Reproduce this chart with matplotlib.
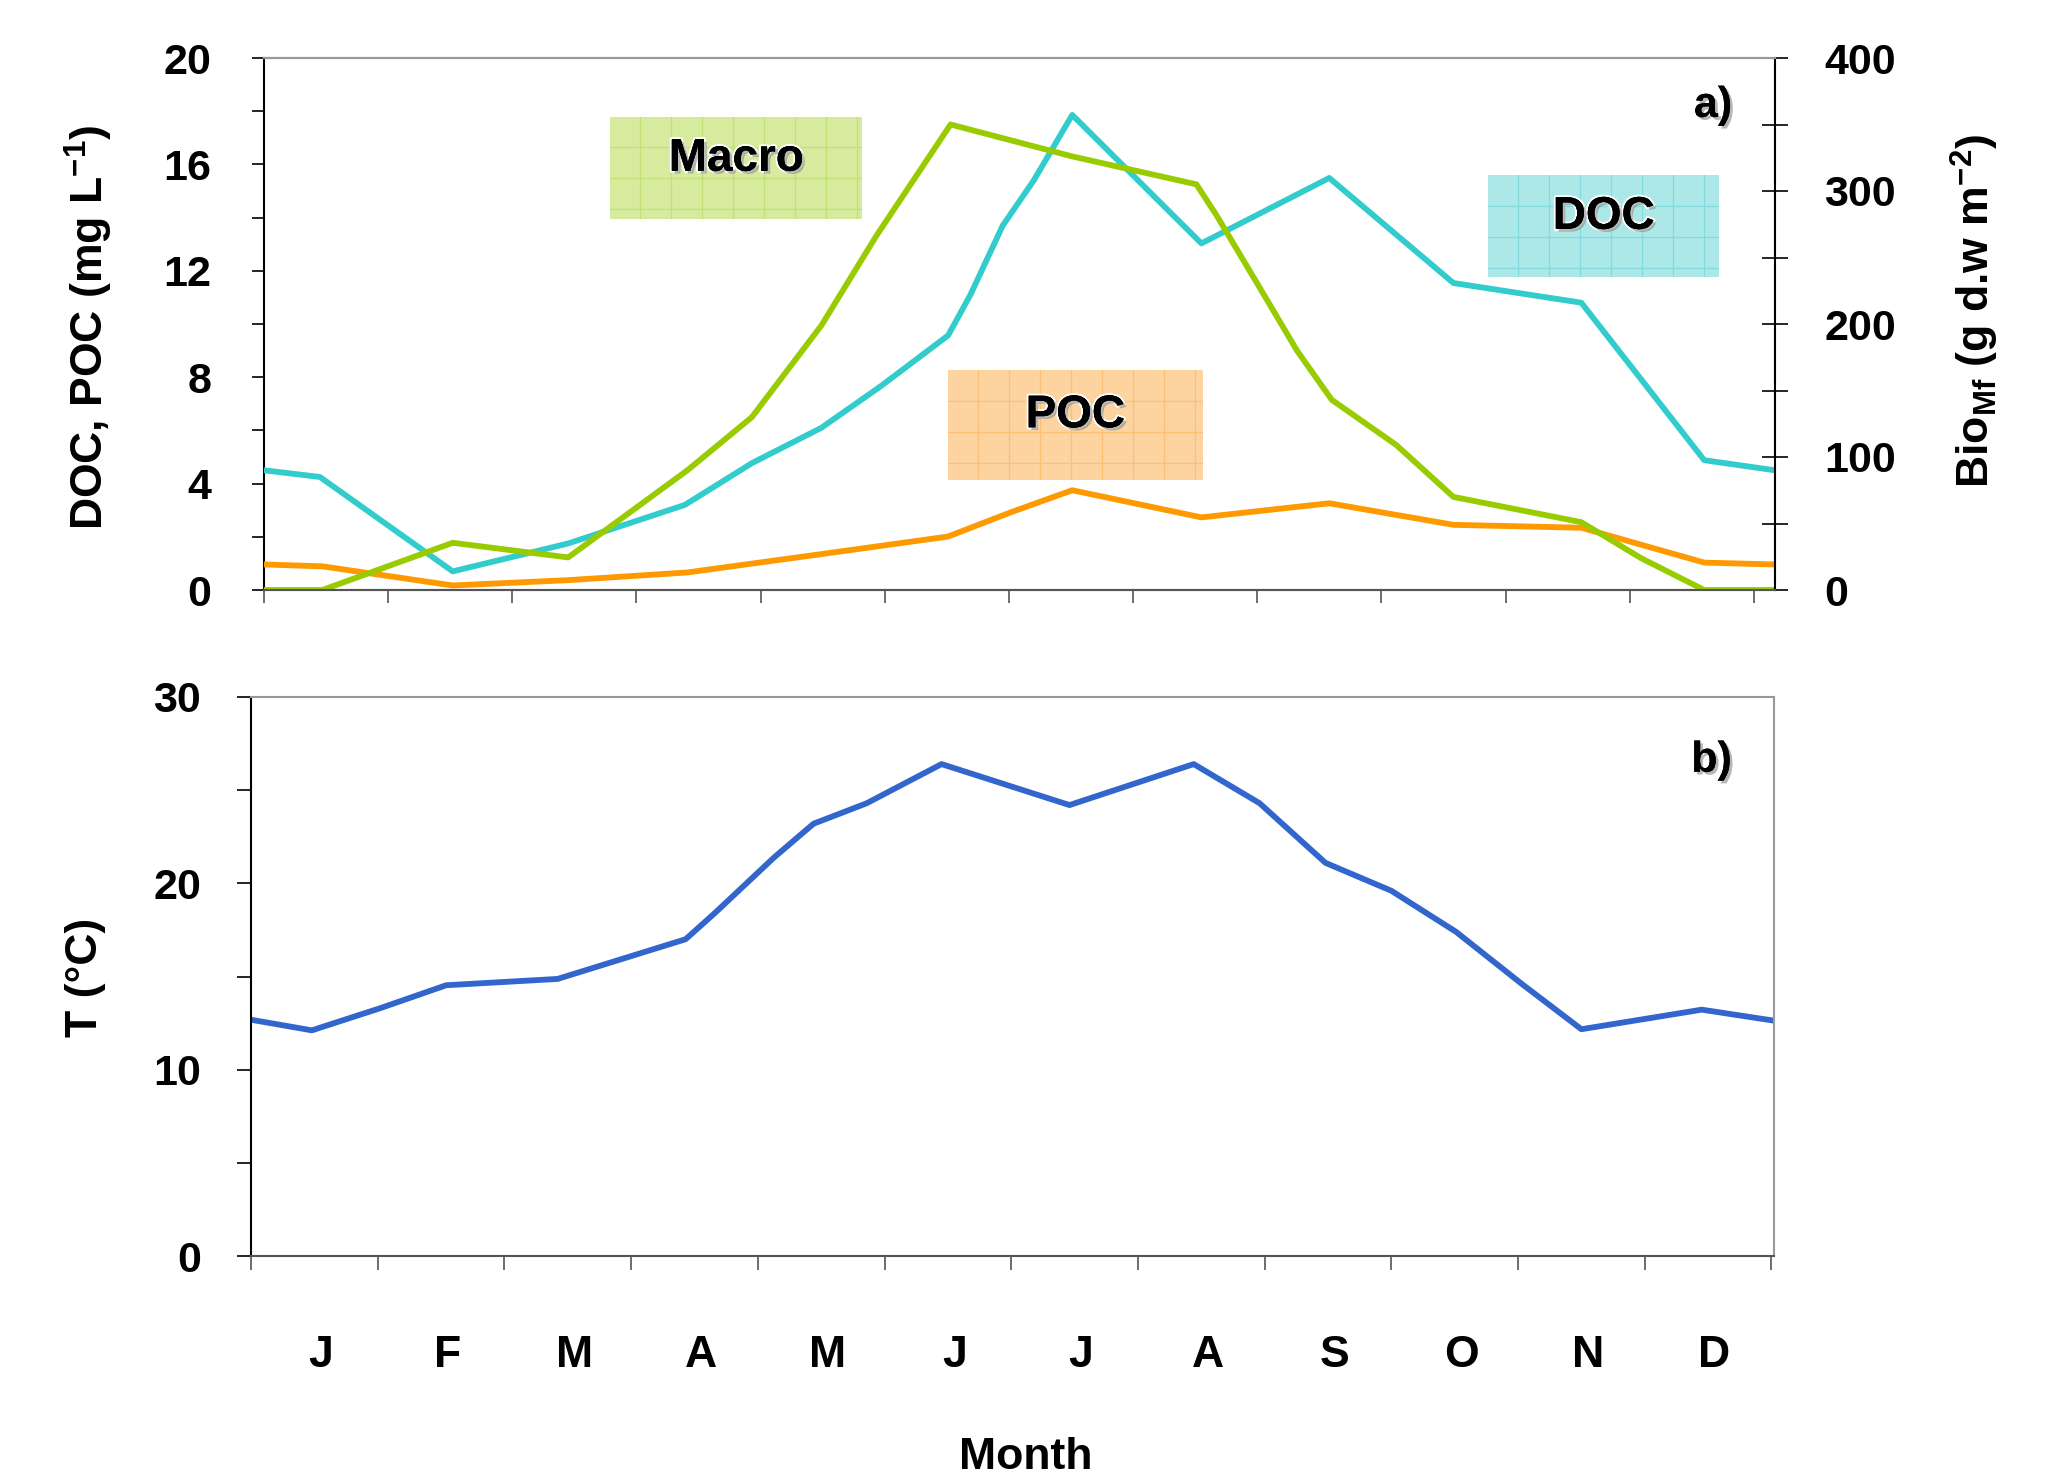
import matplotlib
matplotlib.use("Agg")
import matplotlib.pyplot as plt
import matplotlib.patheffects as pe
import numpy as np

plt.rcParams['font.family'] = ['Liberation Sans', 'DejaVu Sans']
plt.rcParams['font.weight'] = 'bold'
plt.rcParams['mathtext.fontset'] = 'custom'
plt.rcParams['mathtext.rm'] = 'Liberation Sans:bold'
plt.rcParams['mathtext.it'] = 'Liberation Sans:bold'
plt.rcParams['mathtext.bf'] = 'Liberation Sans:bold'

# month positions (fractional months from Jan 1) and values
months = ['J', 'F', 'M', 'A', 'M', 'J', 'J', 'A', 'S', 'O', 'N', 'D']

doc_x = [0, 0.45, 1.52, 2.45, 3.39, 3.93, 4.49, 4.97, 5.51, 5.69, 5.95, 6.2, 6.51,
         7.55, 8.58, 9.58, 10.61, 11.6, 12.17]
doc = [4.5, 4.25, 0.7, 1.75, 3.2, 4.77, 6.1, 7.67, 9.57, 11.1, 13.7, 15.4, 17.86,
       13.03, 15.49, 11.54, 10.8, 4.88, 4.5]

poc_x = [0, 0.47, 1.52, 2.45, 3.41, 4.49, 5.51, 6.02, 6.51, 7.55, 8.58, 9.58,
         10.61, 11.6, 12.17]
poc = [0.96, 0.89, 0.17, 0.37, 0.66, 1.35, 2.01, 2.93, 3.75, 2.73, 3.26, 2.45,
       2.34, 1.03, 0.96]

macro_x = [0, 0.47, 1.52, 2.45, 3.41, 3.93, 4.49, 4.93, 5.53, 6.51, 7.51, 7.67,
           7.99, 8.32, 8.6, 9.12, 9.58, 10.61, 11.09, 11.6, 12.17]
macro = [0, 0, 35.5, 24.5, 90, 130, 199, 266, 350, 326, 305, 282, 232, 180, 143,
         109, 70, 51, 24, 0, 0]

temp_x = [0, 0.48, 1.02, 1.54, 2.42, 3.43, 3.66, 4.13, 4.44, 4.86, 5.45, 6.46,
          7.44, 7.96, 8.48, 9.0, 9.51, 10.03, 10.5, 11.45, 12.0]
temp = [12.68, 12.11, 13.3, 14.53, 14.87, 17.0, 18.4, 21.4, 23.2, 24.3, 26.4, 24.2,
        26.4, 24.3, 21.1, 19.6, 17.4, 14.6, 12.17, 13.22, 12.65]

W, H = 2057, 1482
fig = plt.figure(figsize=(W / 100, H / 100), dpi=100)

ax = fig.add_axes([264 / W, 1 - 590 / H, (1775 - 264) / W, (590 - 58) / H])
ax2 = ax.twinx()
axb = fig.add_axes([251 / W, 1 - 1256 / H, (1774 - 251) / W, (1256 - 697) / H])

lw = 4.2
ax.plot(doc_x, doc, color='#33CCCC', lw=lw, zorder=3)
ax.plot(poc_x, poc, color='#FF9900', lw=lw, zorder=3)
ax2.plot(macro_x, macro, color='#99CC00', lw=lw)
axb.plot(temp_x, temp, color='#3366CC', lw=lw)

ax.set_xlim(0, 12.17)
ax.set_ylim(0, 20)
ax2.set_ylim(0, 400)
axb.set_xlim(0, 12.02)
axb.set_ylim(0, 30)

fs = 31
# top panel ticks
ax.set_yticks(np.arange(0, 21, 4))
ax.set_yticks(np.arange(2, 20, 4), minor=True)
ax.tick_params(axis='y', which='both', direction='out', length=9, width=1.2,
               labelsize=fs, pad=29)
ax.set_xticks(np.arange(0, 13))
ax.set_xticklabels([])
ax.tick_params(axis='x', direction='out', length=9, width=1.2, colors='#555555')
ax2.set_yticks(np.arange(0, 401, 100))
ax2.set_yticks(np.arange(50, 400, 100), minor=True)
ax2.tick_params(axis='y', which='both', direction='inout', length=19, width=1.2,
                labelsize=fs, pad=26)

for a in (ax, ax2):
    a.spines['top'].set_color('#999999')
    a.spines['bottom'].set_color('#555555')
    for s in a.spines.values():
        s.set_linewidth(1.5)
ax2.spines['left'].set_visible(False)
ax.spines['right'].set_visible(False)

# bottom panel ticks
axb.set_yticks(np.arange(0, 31, 10))
axb.set_yticks(np.arange(5, 30, 10), minor=True)
axb.tick_params(axis='y', which='both', direction='out', length=10, width=1.2,
                labelsize=fs, pad=26)
axb.set_xticks(np.arange(0, 13))
axb.set_xticklabels([])
axb.set_xticks(np.arange(12) + 0.55, minor=True)
axb.set_xticklabels(months, minor=True)
axb.tick_params(axis='x', which='major', direction='out', length=10, width=1.2,
                colors='#555555')
axb.tick_params(axis='x', which='minor', length=0, labelsize=32, pad=57,
                labelcolor='black')
axb.spines['top'].set_color('#999999')
axb.spines['right'].set_color('#999999')
axb.spines['bottom'].set_color('#555555')
for s in axb.spines.values():
    s.set_linewidth(1.5)

# axis labels
fig.text(89 / W, 1 - 327 / H, 'DOC, POC (mg L$^{-1}$)', rotation=90,
         ha='center', va='center', fontsize=32, fontweight='bold')
fig.text(1975 / W, 1 - 311 / H, 'Bio$_{\\mathrm{Mf}}$ (g d.w m$^{-2}$)', rotation=90,
         ha='center', va='center', fontsize=32, fontweight='bold')
fig.text(85 / W, 1 - 977 / H, 'T (°C)', rotation=90,
         ha='center', va='center', fontsize=32, fontweight='bold')
fig.text(1026 / W, 1 - 1469 / H, 'Month', ha='center', va='baseline',
         fontsize=32, fontweight='bold')

shadow = [pe.withSimplePatchShadow(offset=(2, -2), shadow_rgbFace='#888888', alpha=0.6),
          pe.Normal()]
ax.text(0.959, 0.91, 'a)', transform=ax.transAxes, ha='center', va='center',
        fontsize=31, fontweight='bold', path_effects=shadow, zorder=6)
axb.text(0.959, 0.886, 'b)', transform=axb.transAxes, ha='center', va='center',
         fontsize=31, fontweight='bold', path_effects=shadow)

# labelled boxes with a fine grid texture
boxes = [('Macro', 2.79, 4.82, 13.93, 17.8, '#D6EB9E', '#C2E170'),
         ('POC', 5.51, 7.56, 4.12, 8.27, '#FDD3A0', '#FBC070'),
         ('DOC', 9.86, 11.72, 11.77, 15.6, '#ADE8E8', '#80DCDC')]
txt_eff = [pe.withStroke(linewidth=3, foreground='white'),
           pe.withSimplePatchShadow(offset=(2, -2), shadow_rgbFace='#777777', alpha=0.5),
           pe.Normal()]
for name, x0, x1, y0, y1, fc, gc in boxes:
    ib = ax.inset_axes([x0, y0, x1 - x0, y1 - y0], transform=ax.transData)
    ib.set_xlim(x0, x1)
    ib.set_ylim(y0, y1)
    ib.set_facecolor(fc)
    ib.set_xticks(np.arange(x0 + 0.24, x1, 0.25))
    ib.set_yticks(np.arange(y1 - 1.15, y0, -1.165))
    ib.grid(True, color=gc, lw=0.9)
    ib.tick_params(length=0, labelbottom=False, labelleft=False)
    for s in ib.spines.values():
        s.set_visible(False)
    ib.text(0.5, 0.59, name, transform=ib.transAxes, ha='center', va='center',
            fontsize=33, fontweight='bold', path_effects=txt_eff)

fig.savefig('out.png', dpi=100)
